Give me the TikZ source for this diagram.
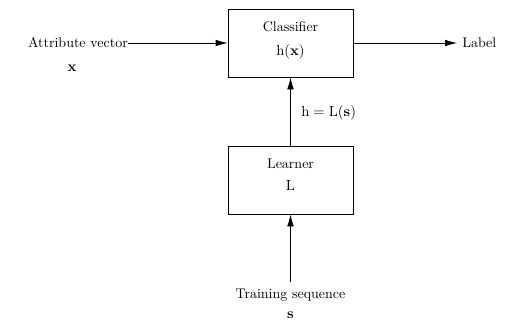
\documentclass[tikz,border=0pt]{standalone}
\usetikzlibrary{arrows.meta}
\begin{document}
\begin{tikzpicture}[x=0.75pt,y=-0.75pt,
  blk/.style={draw,line width=0.6pt,minimum width=93.75pt,minimum height=51pt,align=center,inner sep=0pt},
  txt/.style={inner sep=0pt,font=\fontsize{10.5}{12}\selectfont},
  conn/.style={line width=0.6pt,-{Latex[length=9pt,width=5pt]}},
  every node/.style={font=\fontsize{10.5}{12}\selectfont}]
\useasboundingbox (0,0) rectangle (507,322);
\node[blk] (clf) at (290.5,43) {};
\node[txt] (clft) at (290.5,27) {Classifier};
\node[txt] (clfm) at (290.5,52) {$\mathrm{h}(\mathbf{x})$};
\node[blk] (lrn) at (290.5,180) {};
\node[txt] (lrnt) at (290.5,164) {Learner};
\node[txt] (lrnm) at (290.5,186) {$\mathrm{L}$};
\node[txt,anchor=east] (attr) at (128,43) {Attribute vector};
\node[txt] (xv) at (72,68) {$\mathbf{x}$};
\node[txt,anchor=west] (lab) at (462,43) {Label};
\coordinate (labin) at (457,43);
\node[txt] (train) at (290.5,295) {Training sequence};
\node[txt] (sv) at (290.5,315.5) {$\mathbf{s}$};
\coordinate (trtop) at (290.5,282);
\node[txt,anchor=west] (hl) at (301,113) {$\mathrm{h}=\mathrm{L}(\mathbf{s})$};
\draw[conn] (attr.east) -- (clf.west);
\draw[conn] (clf.east) -- (labin);
\draw[conn] (lrn.north) -- (clf.south);
\draw[conn] (trtop) -- (lrn.south);
\end{tikzpicture}
\end{document}
